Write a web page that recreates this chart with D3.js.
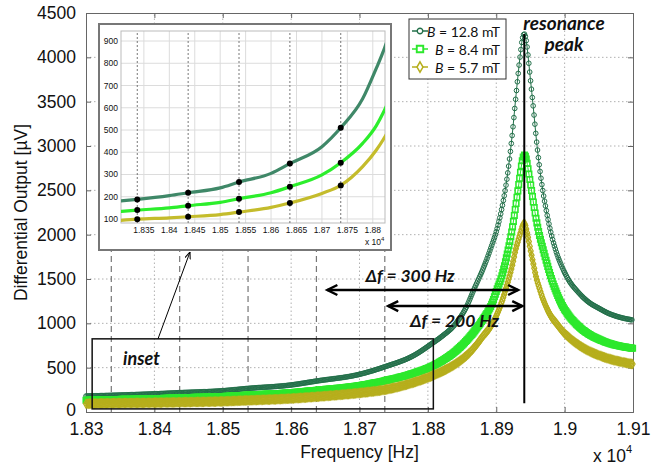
<!DOCTYPE html>
<html>
<head>
<meta charset="utf-8">
<script src="https://cdn.jsdelivr.net/npm/d3@7"></script>
<style>
  body { margin: 0; background: #fff; }
  svg { display: block; }
  .tick-label { font-family: "Liberation Sans", Arial, sans-serif; fill: #111; }
  .note { font-family: Lato, "Open Sans", sans-serif; font-weight: 700; font-style: italic; fill: #111; }
</style>
</head>
<body>
<div id="chart"></div>
<script>
// frequency samples (Hz), shared by the three series
var freqs = [18300, 18337, 18400, 18437, 18500, 18537, 18600, 18637, 18700, 18737,
             18780, 18807, 18820, 18841, 18857, 18867, 18881, 18893, 18901, 18908,
             18916, 18923, 18929, 18935, 18938, 18941, 18944, 18947, 18950, 18954,
             18959, 18963, 18968, 18974, 18980, 18988, 18996, 19005, 19020, 19035,
             19050, 19065, 19080, 19100];

// differential output in uV
var out128 = [180, 188, 205, 218, 240, 266, 305, 349, 425, 510,
              640, 778, 850, 1000, 1195, 1376, 1620, 1870, 2060, 2290,
              2650, 3100, 3580, 4020, 4200, 4263, 4180, 3980, 3750, 3450,
              3050, 2780, 2500, 2240, 2020, 1800, 1640, 1500, 1350, 1240,
              1170, 1110, 1070, 1037];
var out84 = [133, 140, 150, 160, 175, 191, 218, 245, 298, 353,
             440, 520, 575, 690, 810, 900, 1050, 1210, 1380, 1530,
             1780, 2050, 2350, 2680, 2830, 2898, 2850, 2720, 2580, 2380,
             2150, 2000, 1850, 1680, 1520, 1350, 1210, 1100, 970, 880,
             820, 775, 745, 718];
var out57 = [93, 99, 105, 110, 120, 131, 152, 172, 215, 251,
             335, 410, 455, 545, 640, 720, 860, 980, 1100, 1240,
             1440, 1640, 1850, 2010, 2090, 2128, 2060, 1950, 1830, 1680,
             1500, 1400, 1280, 1170, 1080, 1000, 920, 850, 760, 690,
             640, 600, 570, 540];

var seriesNames = ["12.8 mT", "8.4 mT", "5.7 mT"];
var xTicks = [18300, 18400, 18500, 18600, 18700, 18800, 18900, 19000, 19100];
var yTicks = [0, 500, 1000, 1500, 2000, 2500, 3000, 3500, 4000, 4500];
var insetXTicks = [18350, 18400, 18450, 18500, 18550, 18600, 18650, 18700, 18750, 18800];
var insetYTicks = [100, 200, 300, 400, 500, 600, 700, 800, 900];
var markFreqs = [18337, 18437, 18537, 18637, 18737];   // dashed lines / black dots
var peakFreq = 18941;

var width = 666, height = 466;
var svg = d3.select("#chart").append("svg")
    .attr("width", width).attr("height", height);

var x = d3.scaleLinear().domain([18300, 19100]).range([86, 633]);
var y = d3.scaleLinear().domain([0, 4500]).range([412, 13]);

var colors = ["#23704a", "#2ce82c", "#b6ae1c"];
var series = [out128, out84, out57].map(function(vals, i){
    return { name: seriesNames[i], color: colors[i],
             values: freqs.map(function(f, j){ return [f, vals[j]]; }) };
});

// ---- grid + frame
var grid = svg.append("g");
xTicks.slice(1, -1).forEach(function(t){
    grid.append("line").attr("x1", x(t)).attr("x2", x(t)).attr("y1", y(0)).attr("y2", y(4500))
        .attr("stroke", "#b0b0b0").attr("stroke-dasharray", "1.5,2.5");
});
yTicks.slice(1, -1).forEach(function(t){
    grid.append("line").attr("x1", x(18300)).attr("x2", x(19100)).attr("y1", y(t)).attr("y2", y(t))
        .attr("stroke", "#b0b0b0").attr("stroke-dasharray", "1.5,2.5");
});

// axes (inner ticks, matlab style)
var axB = svg.append("g").attr("transform", "translate(0," + y(0) + ")")
    .call(d3.axisBottom(x).tickValues(xTicks).tickSize(-5).tickPadding(11)
        .tickFormat(function(d){ return String(+(d / 1e4).toFixed(2)); }));
var axT = svg.append("g").attr("transform", "translate(0," + y(4500) + ")")
    .call(d3.axisTop(x).tickValues(xTicks).tickSize(-5).tickFormat(""));
var axL = svg.append("g").attr("transform", "translate(" + x(18300) + ",0)")
    .call(d3.axisLeft(y).tickValues(yTicks).tickSize(-5).tickPadding(10).tickFormat(d3.format("d")));
var axR = svg.append("g").attr("transform", "translate(" + x(19100) + ",0)")
    .call(d3.axisRight(y).tickValues(yTicks).tickSize(-5).tickFormat(""));
[axB, axT, axL, axR].forEach(function(a){
    a.attr("font-family", "Liberation Sans, Arial, sans-serif").attr("font-size", 17.5);
    a.select(".domain").attr("stroke", "#666");
    a.selectAll(".tick line").attr("stroke", "#666");
    a.selectAll("text").attr("fill", "#111");
});
// the zero label sits a touch higher so it clears 1.83
axL.selectAll(".tick text").filter(function(d){ return d === 0; }).attr("dy", "0.2em");

svg.append("text").attr("class", "tick-label").attr("font-size", 17.5)
    .attr("x", (x(18300) + x(19100)) / 2).attr("y", 458).attr("text-anchor", "middle")
    .text("Frequency [Hz]");
svg.append("text").attr("class", "tick-label").attr("font-size", 17.5)
    .attr("transform", "translate(27," + ((y(0) + y(4500)) / 2) + ") rotate(-90)")
    .attr("text-anchor", "middle").text("Differential Output [µV]");
var exp = svg.append("text").attr("class", "tick-label").attr("font-size", 17.5)
    .attr("x", 593).attr("y", 462);
exp.append("tspan").text("x 10");
exp.append("tspan").attr("font-size", 11).attr("dy", -9).text("4");

// dashed guide lines below the inset
markFreqs.forEach(function(f){
    svg.append("line").attr("x1", x(f)).attr("x2", x(f)).attr("y1", y(0)).attr("y2", 250)
        .attr("stroke", "#777").attr("stroke-width", 1.2).attr("stroke-dasharray", "6,4");
});

// ---- curves
var line = d3.line().x(function(d){ return x(d[0]); }).y(function(d){ return y(d[1]); })
    .curve(d3.curveMonotoneX);

// walk along a drawn path and drop a marker every `step` px in x (dense matlab markers)
function markerPoints(node, step){
    var L = node.getTotalLength(), pts = [], nextX = -Infinity;
    for (var s = 0; s <= L; s += 0.4){
        var p = node.getPointAtLength(s);
        if (p.x >= nextX){ pts.push([p.x, p.y]); nextX = p.x + step; }
    }
    return pts;
}

var symbols = [d3.symbolCircle, d3.symbolSquare, d3.symbolDiamond];
var symSize = [17, 30, 22];
var symWidth = [1, 1.6, 1.2];

var curves = svg.append("g");
series.forEach(function(s, i){
    var path = curves.append("path").datum(s.values)
        .attr("d", line).attr("fill", "none")
        .attr("stroke", s.color).attr("stroke-width", 1);
    var pts = markerPoints(path.node(), 0.85);
    var sym = d3.symbol().type(symbols[i]).size(symSize[i])();
    curves.append("g").selectAll("path").data(pts).enter().append("path")
        .attr("d", sym)
        .attr("transform", function(d){ return "translate(" + d[0] + "," + d[1] + ")"; })
        .attr("fill", "none").attr("stroke", s.color).attr("stroke-width", symWidth[i]);
});

// peak line
svg.append("line").attr("x1", x(peakFreq)).attr("x2", x(peakFreq))
    .attr("y1", y(4263)).attr("y2", y(100)).attr("stroke", "#000").attr("stroke-width", 2);

// inset rectangle on main plot
svg.append("rect").attr("x", x(18309)).attr("y", y(825))
    .attr("width", x(18808) - x(18309)).attr("height", y(35) - y(825))
    .attr("fill", "none").attr("stroke", "#111").attr("stroke-width", 1.5);
svg.append("text").attr("class", "note").attr("font-size", 18)
    .attr("x", 123).attr("y", y(610)).attr("dominant-baseline", "central").text("inset");

// double arrows
function arrowHead(g, xTip, yTip, dir){
    g.append("path").attr("d", "M" + (xTip - dir * 10) + "," + (yTip - 5) + "L" + xTip + "," + yTip +
            "L" + (xTip - dir * 10) + "," + (yTip + 5))
        .attr("fill", "none").attr("stroke", "#000").attr("stroke-width", 2.5);
}
var arrows = svg.append("g");
[[18653, 18932, 1376], [18742, 18938, 1195]].forEach(function(a){
    arrows.append("line").attr("x1", x(a[0])).attr("x2", x(a[1])).attr("y1", y(a[2])).attr("y2", y(a[2]))
        .attr("stroke", "#000").attr("stroke-width", 2.5);
    arrowHead(arrows, x(a[0]), y(a[2]), -1);
    arrowHead(arrows, x(a[1]), y(a[2]), 1);
});
svg.append("text").attr("class", "note").attr("font-size", 17.5).attr("text-anchor", "middle")
    .attr("x", x(18774)).attr("y", y(1545)).attr("dominant-baseline", "central").text("Δf = 300 Hz");
svg.append("text").attr("class", "note").attr("font-size", 17.5).attr("text-anchor", "middle")
    .attr("x", x(18839)).attr("y", y(1030)).attr("dominant-baseline", "central").text("Δf = 200 Hz");
svg.append("text").attr("class", "note").attr("font-size", 19).attr("text-anchor", "middle")
    .attr("x", 564).attr("y", 22).attr("dominant-baseline", "central").text("resonance");
svg.append("text").attr("class", "note").attr("font-size", 19).attr("text-anchor", "middle")
    .attr("x", 564).attr("y", 43).attr("dominant-baseline", "central").text("peak");

// ---- inset panel
var inset = svg.append("g");
inset.append("rect").attr("x", 99).attr("y", 24).attr("width", 292).attr("height", 226)
    .attr("fill", "#fff").attr("stroke", "#777").attr("stroke-width", 2);

var ix = d3.scaleLinear().domain([18305, 18824]).range([121, 385]);
var iy = d3.scaleLinear().domain([82, 945]).range([223, 31]);

insetXTicks.forEach(function(t){
    inset.append("line").attr("x1", ix(t)).attr("x2", ix(t)).attr("y1", iy(82)).attr("y2", iy(945))
        .attr("stroke", "#dcdcdc");
    inset.append("text").attr("class", "tick-label").attr("font-size", 8.5).attr("fill", "#333")
        .attr("x", ix(t)).attr("y", 233).attr("text-anchor", "middle")
        .text(String(+(t / 1e4).toFixed(4)));
});
insetYTicks.forEach(function(t){
    inset.append("line").attr("x1", ix(18305)).attr("x2", ix(18824)).attr("y1", iy(t)).attr("y2", iy(t))
        .attr("stroke", "#dcdcdc");
    inset.append("text").attr("class", "tick-label").attr("font-size", 8.5).attr("fill", "#333")
        .attr("x", 118).attr("y", iy(t)).attr("text-anchor", "end").attr("dominant-baseline", "central")
        .text(t);
});
inset.append("rect").attr("x", 121).attr("y", 31).attr("width", 264).attr("height", 192)
    .attr("fill", "none").attr("stroke", "#bbb");
var iexp = inset.append("text").attr("class", "tick-label").attr("font-size", 8.5).attr("fill", "#333")
    .attr("x", 365).attr("y", 245);
iexp.append("tspan").text("x 10");
iexp.append("tspan").attr("font-size", 6).attr("dy", -4).text("4");

markFreqs.forEach(function(f){
    inset.append("line").attr("x1", ix(f)).attr("x2", ix(f)).attr("y1", iy(82)).attr("y2", iy(945))
        .attr("stroke", "#555").attr("stroke-width", 0.8).attr("stroke-dasharray", "2,2");
});

svg.append("clipPath").attr("id", "insetClip").append("rect")
    .attr("x", 121).attr("y", 31).attr("width", 264).attr("height", 192);
var iline = d3.line().x(function(d){ return ix(d[0]); }).y(function(d){ return iy(d[1]); })
    .curve(d3.curveMonotoneX);
var insetColors = ["#3f8868", "#2cee2c", "#c4bc2c"];
series.forEach(function(s, i){
    inset.append("path").datum(s.values).attr("d", iline)
        .attr("clip-path", "url(#insetClip)")
        .attr("fill", "none").attr("stroke", insetColors[i]).attr("stroke-width", 3.2);
    s.values.filter(function(d){ return markFreqs.indexOf(d[0]) >= 0; }).forEach(function(d){
        inset.append("circle").attr("cx", ix(d[0])).attr("cy", iy(d[1])).attr("r", 3).attr("fill", "#000");
    });
});

// arrow from the inset box to the inset panel
svg.append("defs").append("marker").attr("id", "tip").attr("viewBox", "0 -5 10 10")
    .attr("refX", 10).attr("markerWidth", 7).attr("markerHeight", 7).attr("orient", "auto")
    .append("path").attr("d", "M0,-4L10,0L0,4").attr("fill", "none").attr("stroke", "#000").attr("stroke-width", 1.5);
svg.append("line").attr("x1", 158).attr("y1", y(825)).attr("x2", 190).attr("y2", 252)
    .attr("stroke", "#000").attr("stroke-width", 1).attr("marker-end", "url(#tip)");

// ---- legend
var lg = svg.append("g");
lg.append("rect").attr("x", 409).attr("y", 19).attr("width", 97).attr("height", 60)
    .attr("fill", "#fff").attr("stroke", "#333");
series.forEach(function(s, i){
    var ly = 31 + i * 18;
    lg.append("line").attr("x1", 412).attr("x2", 428).attr("y1", ly).attr("y2", ly)
        .attr("stroke", s.color).attr("stroke-width", 1.5);
    lg.append("path").attr("d", d3.symbol().type(symbols[i]).size(symSize[i] * 1.4)())
        .attr("transform", "translate(420," + ly + ")")
        .attr("fill", "#fff").attr("stroke", s.color).attr("stroke-width", symWidth[i] + 0.3);
    var t = lg.append("text").attr("font-family", "Lato, 'Open Sans', sans-serif").attr("font-size", 14)
        .attr("fill", "#111").attr("x", 500).attr("y", ly).attr("text-anchor", "end")
        .attr("dominant-baseline", "central");
    t.append("tspan").attr("font-style", "italic").text("B");
    t.append("tspan").text(" = " + s.name);
});
</script>
</body>
</html>
